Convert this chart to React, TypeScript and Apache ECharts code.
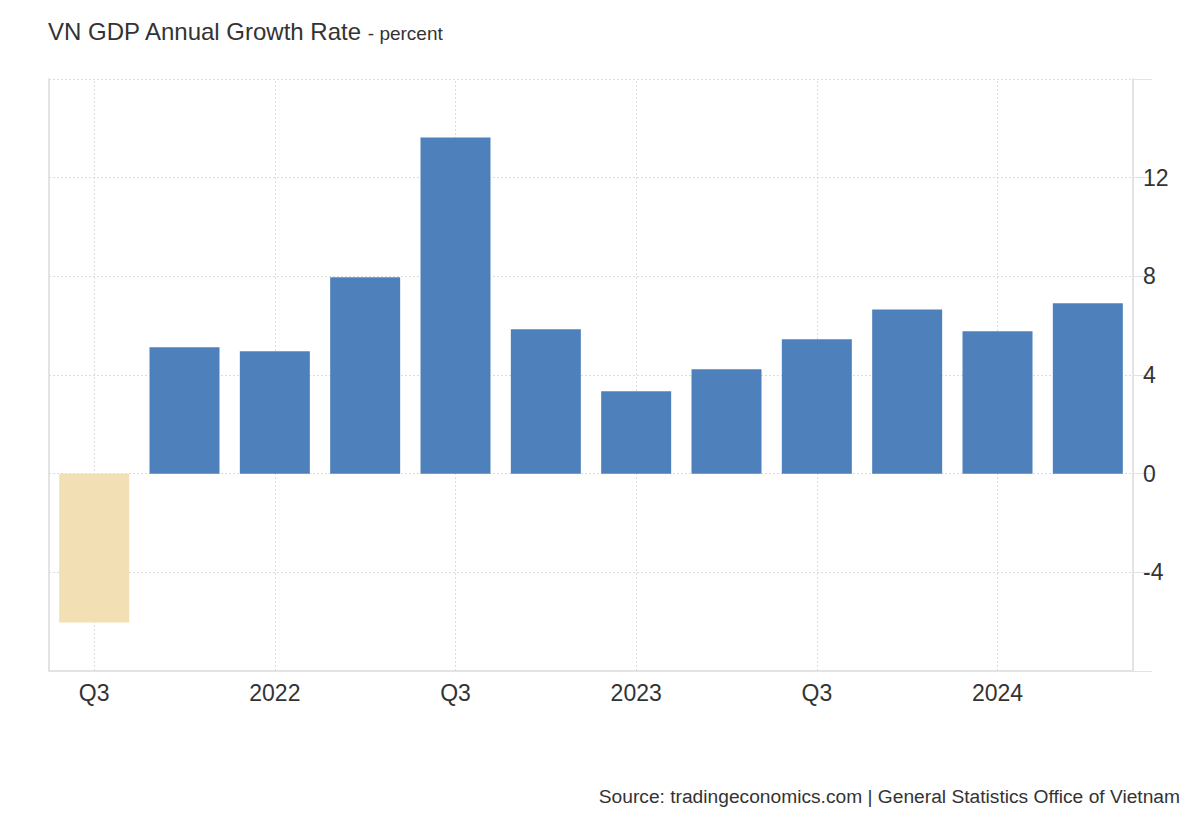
import React, { useEffect, useRef } from "react";
import * as echarts from "echarts";

const categories = [
  "2021 Q3", "2021 Q4", "2022 Q1", "2022 Q2", "2022 Q3", "2022 Q4",
  "2023 Q1", "2023 Q2", "2023 Q3", "2023 Q4", "2024 Q1", "2024 Q2",
];
const growthValues = [-6.03, 5.12, 4.96, 7.96, 13.63, 5.85, 3.34, 4.23, 5.45, 6.66, 5.77, 6.91];
const yTicks = { min: -8, max: 16, interval: 4 };
const hiddenYLabels = [-8, 16];

const FONT = "Arial, 'Liberation Sans', sans-serif";
const GRID_COLOR = "#dcdcdc";
const AXIS_COLOR = "#e3e3e3";

export default function App() {
  const ref = useRef<HTMLDivElement>(null);
  useEffect(() => {
    if (!ref.current) return;
    const chart = echarts.init(ref.current, undefined, { renderer: "svg" });
    const gridLineCats = categories.filter((_, i) => i % 2 === 0).map((c) => ({ xAxis: c }));
    chart.setOption({
      animation: false,
      backgroundColor: "#ffffff",
      textStyle: { fontFamily: FONT },
      title: {
        left: 43,
        top: 14,
        text: "{a|VN GDP Annual Growth Rate} {b|- percent}",
        textStyle: {
          fontWeight: "normal",
          rich: {
            a: { fontSize: 24, color: "#333333", fontFamily: FONT, fontWeight: "normal", verticalAlign: "bottom" },
            b: { fontSize: 19, color: "#333333", fontFamily: FONT, fontWeight: "normal", verticalAlign: "bottom" },
          },
        },
      },
      graphic: [
        {
          type: "text",
          right: 20,
          top: 787,
          style: {
            text: "Source: tradingeconomics.com | General Statistics Office of Vietnam",
            fontSize: 19.2,
            fontFamily: FONT,
            fill: "#333333",
          },
        },
      ],
      grid: { left: 49, right: 67, top: 79, bottom: 149, containLabel: false, outerBoundsMode: "none" },
      xAxis: {
        type: "category",
        data: categories,
        boundaryGap: true,
        axisLine: { show: true, onZero: false, lineStyle: { color: AXIS_COLOR, width: 2 } },
        axisTick: { show: false },
        splitLine: { show: false },
        axisLabel: {
          interval: 1,
          margin: 10,
          fontSize: 23,
          color: "#333333",
          fontFamily: FONT,
          formatter: (v: string) => {
            const [year, q] = v.split(" ");
            return q === "Q1" ? year : q;
          },
        },
      },
      yAxis: [
        {
          type: "value",
          position: "right",
          min: yTicks.min,
          max: yTicks.max,
          interval: yTicks.interval,
          axisLine: { show: true, lineStyle: { color: AXIS_COLOR, width: 2 } },
          axisTick: { show: true, length: 19, lineStyle: { color: AXIS_COLOR, width: 1 } },
          axisLabel: {
            margin: 10,
            fontSize: 23,
            color: "#333333",
            fontFamily: FONT,
            formatter: (v: number) => (hiddenYLabels.includes(v) ? "" : String(v)),
          },
          splitLine: { show: true, lineStyle: { color: GRID_COLOR, type: [2, 2], width: 1 } },
        },
        {
          type: "value",
          position: "left",
          min: yTicks.min,
          max: yTicks.max,
          interval: yTicks.interval,
          axisLine: { show: true, lineStyle: { color: AXIS_COLOR, width: 2 } },
          axisTick: { show: false },
          axisLabel: { show: false },
          splitLine: { show: false },
        },
      ],
      series: [
        {
          type: "bar",
          data: growthValues,
          barWidth: 70,
          z: 2,
          itemStyle: {
            color: (p: any) => (p.value < 0 ? "#f3dfb4" : "#4e80bb"),
          },
          markLine: {
            z: 1,
            silent: true,
            symbol: "none",
            label: { show: false },
            lineStyle: { color: GRID_COLOR, type: [2, 2], width: 1 },
            data: gridLineCats,
          },
        },
      ],
    });
    return () => chart.dispose();
  }, []);
  return (
    <div
      ref={ref}
      style={{ position: "absolute", left: 0, top: 0, width: 1200, height: 820 }}
    />
  );
}
